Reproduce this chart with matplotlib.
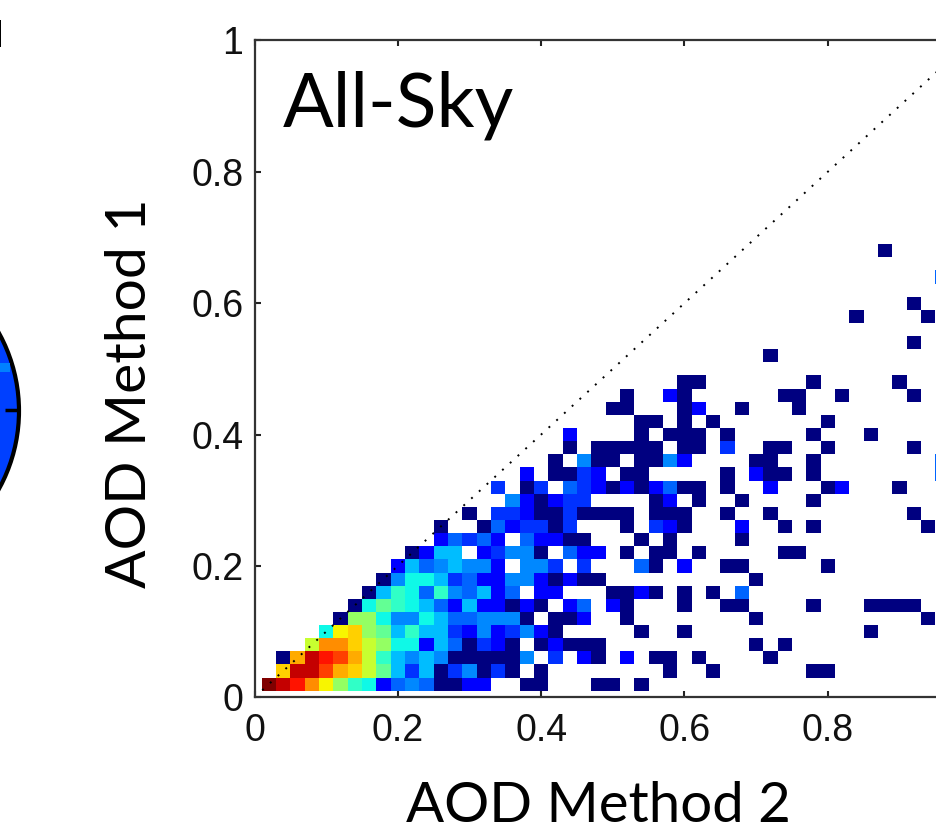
import numpy as np
import matplotlib
matplotlib.use("Agg")
import matplotlib.pyplot as plt
from matplotlib.patches import Circle, Rectangle

# Position sur l'échelle jet (0-1) de chaque code couleur
code_letters = list("nbBaAsctgGlyYoOrRdD")
code_levels = [0.0, 0.11, 0.175, 0.225, 0.26, 0.31, 0.37, 0.41, 0.47, 0.53,
               0.59, 0.65, 0.69, 0.73, 0.76, 0.84, 0.89, 0.94, 1.0]

# Une ligne par pas de 0.02 en y (du bas vers le haut), une colonne par pas de 0.02 en x
# '.' = case vide, les espaces servent juste a compter par dizaines
rows = [
    "DdROyGtcba Aannbb..nn ...nn.n...",
    ".YddroYlgs BsnBAnBn.n ........n. .n......nn",
    ".nodRrolts AsAnnnnnA. B.bn.b.nn. n....n....",
    "...lOOYlGc cbsanBbn.n bnnn...... ....n.n...",
    "....cyYGgs tssBbAbBAb n.....n..n .......... ..n",
    ".....nGGcA AcsaaAAAn. nnb..n.... ....n..... ......n",
    "......ncgt csabsbbnbn .ba.bn...n ..nn....n. ..nnnn",
    ".......nst catAasba.b b...nnbn.n .n.a",
    "........nA ccsBabbAAb nbnn...... ....n",
    ".........b saAsAAb.AA B.B...an.b ..nn.....n",
    ".......... nbss.bBAAn .abb.n.nn. n.....nn..",
    ".......... ..baBab.ab bnn...n.n. ...n",
    ".......... ..n..nabBB nB...n.Bbn ...b..n.n. ......n",
    ".......... ....n.BBbn nBnnnn.nnn ..n..n.... .....n",
    ".......... .......Abn bBB....nb. n..n....n.",
    ".......... ......B.nB .aBbnbnban n.n..b...n b...n",
    ".......... ........b. nnBb.nn... ..n.bnn.n. .......a",
    ".......... .......... n.Ann.nnAb ....nn..n. .......a",
    ".......... .......... .n.nnnnn.n n.B..nn..n .....n",
    ".......... .......... .b....n.nn n.n.....n. ..n",
    ".......... .......... ......nn.n .n.......n",
    ".......... .......... ....nn...n b..n...n..",
    ".......... .......... .....n..bn ......nn.. n....n",
    ".......... .......... .........n n.......n. ....n",
    "",
    ".......... .......... .......... .....n",
    ".......... .......... .......... .......... .....n",
    "",
    ".......... .......... .......... .......... .n....n",
    ".......... .......... .......... .......... .....n",
    "",
    ".......... .......... .......... .......... .......a",
    "",
    ".......... .......... .......... .......... ...n",
]

tick_values = [0, 0.2, 0.4, 0.6, 0.8, 1]
x_tick_labels = ["0", "0.2", "0.4", "0.6", "0.8", ""]  # le 1 tombe hors de l'image
y_tick_labels = ["0", "0.2", "0.4", "0.6", "0.8", "1"]

W, H = 937, 831
ncols = 48
level_of = dict(zip(code_letters, code_levels))

grid = np.full((len(rows), ncols), np.nan)
for r, row in enumerate(rows):
    row = row.replace(" ", "")
    for c, ch in enumerate(row):
        if ch != ".":
            grid[r, c] = level_of[ch]

fig = plt.figure(figsize=(W / 100, H / 100), dpi=100)

# Fond en pixels pour le bout de globe coupe a gauche
bg = fig.add_axes([0, 0, 1, 1])
bg.set_xlim(0, W)
bg.set_ylim(H, 0)
bg.axis("off")
globe = Circle((-142.5, 411), 161.5, facecolor="#0040ff", edgecolor="black", lw=3)
bg.add_patch(globe)
light = Rectangle((0, 363), 10, 9, facecolor="#0080ff", edgecolor="none")
bg.add_patch(light)
light.set_clip_path(globe)
bg.plot([5, 19], [410, 410], color="black", lw=2.5, solid_capstyle="butt")
bg.add_patch(Rectangle((0, 20), 1.5, 27, facecolor="black", edgecolor="none"))

# L'axe depasse a droite de l'image, comme sur l'original
left, right, top, bottom = 254.5, 971, 40.5, 697.3
ax = fig.add_axes([left / W, 1 - bottom / H, (right - left) / W, (bottom - top) / H])
ax.patch.set_alpha(0)

x_edges = 0.01 + 0.02 * np.arange(ncols + 1)
y_edges = 0.01 + 0.02 * np.arange(len(rows) + 1)
ax.pcolormesh(x_edges, y_edges, np.ma.masked_invalid(grid), cmap="jet", vmin=0, vmax=1)

ax.plot([0, 1], [0, 1], color="black", lw=1.4, linestyle=(0, (1, 4.4)))

ax.set_xlim(0, 1)
ax.set_ylim(0, 1)
ax.set_xticks(tick_values)
ax.set_xticklabels(x_tick_labels)
ax.set_yticks(tick_values)
ax.set_yticklabels(y_tick_labels)
ax.tick_params(direction="in", top=True, right=True, length=4, width=1.5, color="#222222",
               labelsize=27, labelcolor="#111111", pad=8)
ax.tick_params(axis="x", pad=11)
for label in ax.get_xticklabels() + ax.get_yticklabels():
    label.set_family("Liberation Sans")
for spine in ax.spines.values():
    spine.set_linewidth(1.6)
    spine.set_color("#333333")

fig.text(398 / W, 1 - 127 / H, "All-Sky", family="Lato", fontsize=54, ha="center", va="baseline")
fig.text(598 / W, 1 - 822 / H, "AOD Method 2", family="Lato", fontsize=40.6, ha="center", va="baseline")
fig.text(146 / W, 1 - 393 / H, "AOD Method 1", family="Lato", fontsize=41, ha="center", va="baseline",
         rotation=90, rotation_mode="anchor")

plt.savefig("out.png", dpi=100)
